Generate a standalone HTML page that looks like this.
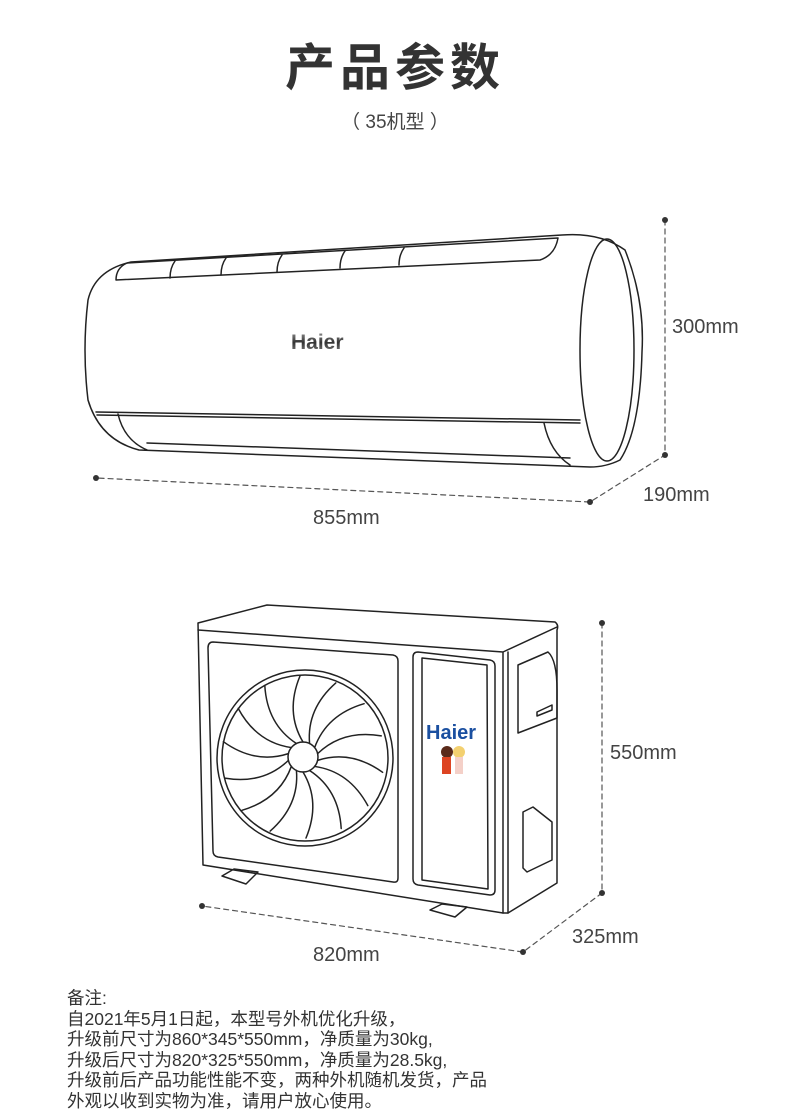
<!DOCTYPE html>
<html><head><meta charset="utf-8"><style>
html,body{margin:0;padding:0;background:#fff}
body{width:790px;height:1120px;position:relative;overflow:hidden;font-family:"Liberation Sans","Noto Sans CJK SC",sans-serif;color:#333}
.t{position:absolute;white-space:nowrap}
</style></head><body>
<div class="t" style="left:0;width:790px;top:28px;text-align:center;font-size:50px;font-weight:bold;letter-spacing:5px;color:#333">产品参数</div>
<div class="t" style="left:0;width:790px;top:107px;text-align:center;font-size:19px;color:#444">（ 35机型 ）</div>
<svg width="790" height="1120" style="position:absolute;left:0;top:0" fill="none" stroke="#222" stroke-width="1.5" stroke-linejoin="round" stroke-linecap="round">
<defs><linearGradient id="g" x1="0" y1="0" x2="0" y2="1"><stop offset="0" stop-color="#999"/><stop offset=".5" stop-color="#333"/><stop offset="1" stop-color="#888"/></linearGradient></defs>
<path d="M131,262 L562,235 Q600,232 625,250 Q645,300 642,352 Q640,430 620,460 Q606,467 590,467 L139,450 Q100,440 88,400 Q82,350 88,300 Q95,270 131,262 Z" fill="#fff"/>
<ellipse cx="607" cy="350" rx="27" ry="111"/>
<path d="M127,263 L558,238 Q555,255 540,260 L116,280 Q116,268 127,263Z"/>
<path d="M175,261 Q170,268 170,278 M226,258 Q221,265 221,275 M282,255 Q277,262 277,272 M345,251 Q340,258 340,268 M404,248 Q399,255 399,265"/>
<path d="M96,412 L580,420 M97,415 L580,423"/>
<path d="M118,414 Q124,440 147,450 M544,423 Q550,452 570,465 M147,443 L570,458"/>
<text x="291" y="349" font-family="Liberation Sans" font-weight="bold" font-size="21" fill="url(#g)" stroke="none">Haier</text>
<g stroke="#555" stroke-width="1.2" stroke-dasharray="5,4">
<path d="M665,220 L665,455 L590,502 L96,478"/>
<path d="M602,623 L602,893 L523,952 L202,906"/>
</g>
<g fill="#333" stroke="none">
<circle cx="665" cy="220" r="3"/><circle cx="665" cy="455" r="3"/><circle cx="590" cy="502" r="3"/><circle cx="96" cy="478" r="3"/>
<circle cx="602" cy="623" r="3"/><circle cx="602" cy="893" r="3"/><circle cx="523" cy="952" r="3"/><circle cx="202" cy="906" r="3"/>
</g>
<path d="M198,623 L267,605 L555,622 Q559,625 557,630 L557,883 L508,913 L503,913 L203,865 Z" fill="#fff"/>
<path d="M198,630 L503,652 L557,627 M503,652 L503,913 M508,652 L508,913"/>
<path d="M213,642 L393,655 Q398,656 398,661 L398,878 Q398,883 393,882 L218,857 Q213,856 213,851 L208,648 Q208,642 213,642Z"/>
<circle cx="305" cy="758" r="88"/><circle cx="305" cy="758" r="83"/>
<circle cx="303" cy="757" r="15"/>
<g>
<path id="b" d="M303,742 Q285,712 300,676"/>
<use href="#b" transform="rotate(26 303 757)"/><use href="#b" transform="rotate(51 303 757)"/><use href="#b" transform="rotate(77 303 757)"/><use href="#b" transform="rotate(103 303 757)"/><use href="#b" transform="rotate(129 303 757)"/><use href="#b" transform="rotate(154 303 757)"/><use href="#b" transform="rotate(180 303 757)"/><use href="#b" transform="rotate(206 303 757)"/><use href="#b" transform="rotate(231 303 757)"/><use href="#b" transform="rotate(257 303 757)"/><use href="#b" transform="rotate(283 303 757)"/><use href="#b" transform="rotate(309 303 757)"/><use href="#b" transform="rotate(334 303 757)"/>
</g>
<path d="M418,652 L490,660 Q495,661 495,666 L495,890 Q495,895 490,895 L418,885 Q413,884 413,879 L413,657 Q413,652 418,652Z"/>
<path d="M422,658 L487,665 L488,889 L422,880 Z"/>
<text x="426" y="739" font-family="Liberation Sans" font-weight="bold" font-size="20" fill="#1a4fa0" stroke="none">Haier</text>
<g stroke="none"><circle cx="447" cy="752" r="6" fill="#5a2a1a"/><rect x="442" y="757" width="9" height="17" fill="#d42"/><circle cx="459" cy="752" r="6" fill="#f3d070"/><rect x="455" y="757" width="8" height="17" fill="#f4d0c8"/></g>
<path d="M518,665 L548,652 Q557,660 557,690 L557,718 L518,733 Z M537,712 L552,705 L552,710 L537,716Z"/>
<path d="M523,812 L533,807 L552,822 L552,860 L527,872 L523,868 Z"/>
<path d="M222,876 L234,869 L258,872 L246,884 Z M430,910 L442,904 L467,907 L455,917 Z"/>
</svg>
<div class="t" style="left:672px;top:316px;font-size:20px;color:#444">300mm</div>
<div class="t" style="left:643px;top:484px;font-size:20px;color:#444">190mm</div>
<div class="t" style="left:313px;top:507px;font-size:20px;color:#444">855mm</div>
<div class="t" style="left:610px;top:742px;font-size:20px;color:#444">550mm</div>
<div class="t" style="left:572px;top:926px;font-size:20px;color:#444">325mm</div>
<div class="t" style="left:313px;top:944px;font-size:20px;color:#444">820mm</div>
<div class="t" style="left:67px;top:988px;font-size:17.5px;line-height:20.6px;color:#333">备注:<br>自2021年5月1日起，本型号外机优化升级，<br>升级前尺寸为860*345*550mm，净质量为30kg,<br>升级后尺寸为820*325*550mm，净质量为28.5kg,<br>升级前后产品功能性能不变，两种外机随机发货，产品<br>外观以收到实物为准，请用户放心使用。</div>
</body></html>
